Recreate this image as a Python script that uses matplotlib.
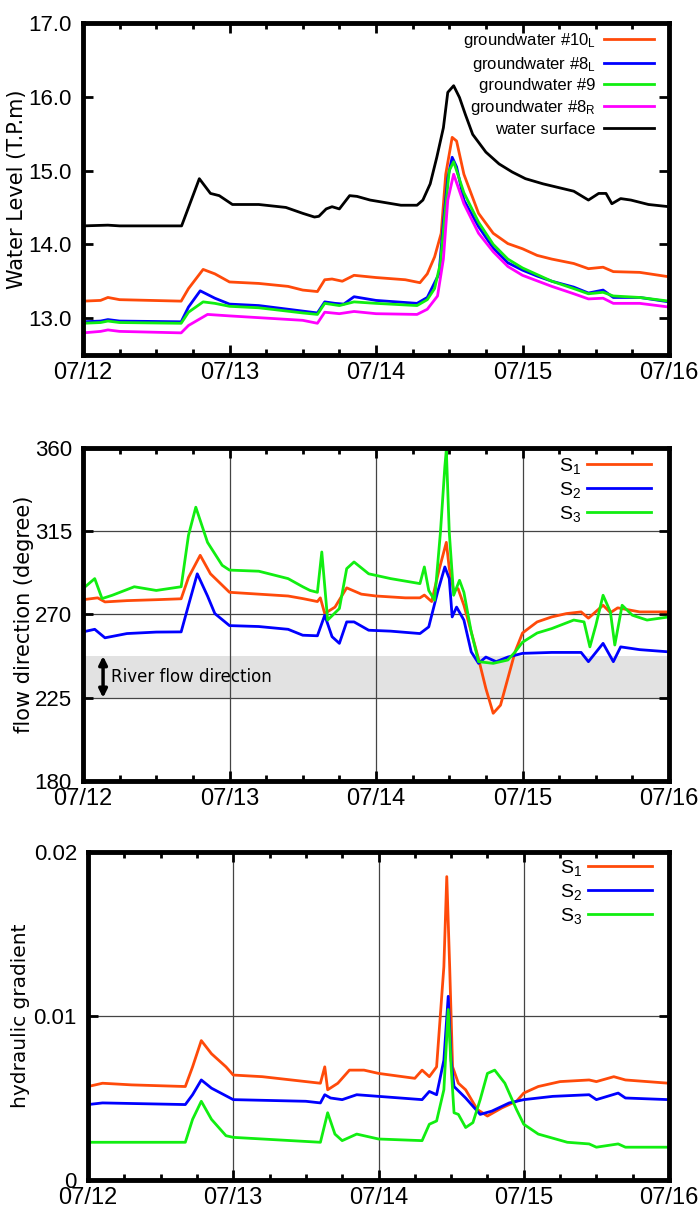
import matplotlib
matplotlib.use("Agg")
import matplotlib.pyplot as plt
from matplotlib.ticker import MultipleLocator

# time axis: days since 07/12 00:00
day_ticks = [0, 1, 2, 3, 4]
day_labels = ["07/12", "07/13", "07/14", "07/15", "07/16"]

# ---- panel 1: water level (T.P.m) ----
ws_t = [0, 0.17, 0.25, 0.673, 0.794, 0.87, 0.93, 1.02, 1.2, 1.385, 1.5, 1.58, 1.61, 1.66, 1.70,
        1.75, 1.82, 1.87, 1.96, 2.08, 2.17, 2.28, 2.32, 2.37, 2.415, 2.46, 2.49, 2.53, 2.57, 2.61,
        2.66, 2.75, 2.84, 2.93, 3.02, 3.14, 3.35, 3.45, 3.52, 3.57, 3.61, 3.67, 3.74, 3.86, 4.0]
ws_v = [14.25, 14.26, 14.25, 14.25, 14.89, 14.69, 14.66, 14.54, 14.54, 14.50, 14.42, 14.37, 14.38,
        14.48, 14.51, 14.48, 14.66, 14.65, 14.60, 14.56, 14.53, 14.53, 14.60, 14.82, 15.18, 15.58,
        16.06, 16.15, 15.99, 15.76, 15.49, 15.25, 15.09, 14.98, 14.89, 14.82, 14.72, 14.60, 14.69,
        14.69, 14.55, 14.62, 14.60, 14.54, 14.51]

g10_t = [0, 0.12, 0.17, 0.25, 0.67, 0.72, 0.82, 0.9, 1.0, 1.2, 1.4, 1.5, 1.6, 1.65, 1.7, 1.77,
         1.85, 2.0, 2.2, 2.3, 2.35, 2.4, 2.445, 2.476, 2.52, 2.55, 2.6, 2.7, 2.8, 2.9, 3.0, 3.1,
         3.2, 3.35, 3.45, 3.55, 3.62, 3.8, 4.0]
g10_v = [13.23, 13.24, 13.28, 13.25, 13.23, 13.40, 13.66, 13.60, 13.49, 13.47, 13.43, 13.38, 13.36,
         13.52, 13.53, 13.50, 13.58, 13.55, 13.52, 13.48, 13.60, 13.83, 14.15, 14.95, 15.45, 15.40,
         14.95, 14.42, 14.15, 14.01, 13.94, 13.85, 13.80, 13.74, 13.67, 13.69, 13.63, 13.62, 13.56]

g8l_t = [0, 0.12, 0.17, 0.25, 0.67, 0.72, 0.8, 0.9, 1.0, 1.2, 1.4, 1.6, 1.65, 1.72, 1.78, 1.85,
         2.0, 2.28, 2.35, 2.43, 2.46, 2.49, 2.52, 2.55, 2.6, 2.7, 2.8, 2.9, 3.0, 3.1, 3.2, 3.35,
         3.45, 3.55, 3.62, 3.8, 4.0]
g8l_v = [12.95, 12.96, 12.98, 12.96, 12.95, 13.15, 13.37, 13.27, 13.19, 13.17, 13.12, 13.07, 13.22,
         13.20, 13.19, 13.29, 13.24, 13.20, 13.28, 13.60, 14.30, 14.90, 15.18, 15.05, 14.60, 14.24,
         13.95, 13.75, 13.65, 13.57, 13.50, 13.42, 13.34, 13.38, 13.28, 13.28, 13.22]

g9_t = [0, 0.12, 0.17, 0.25, 0.67, 0.72, 0.82, 0.9, 1.0, 1.2, 1.5, 1.6, 1.65, 1.75, 1.85, 2.0,
        2.28, 2.35, 2.4, 2.44, 2.47, 2.50, 2.53, 2.6, 2.7, 2.8, 2.9, 3.0, 3.2, 3.35, 3.45, 3.55,
        3.62, 3.8, 4.0]
g9_v = [12.93, 12.94, 12.96, 12.94, 12.93, 13.08, 13.22, 13.20, 13.16, 13.14, 13.07, 13.05, 13.20,
        13.17, 13.22, 13.20, 13.17, 13.25, 13.40, 13.75, 14.40, 15.00, 15.12, 14.70, 14.30, 14.00,
        13.80, 13.68, 13.50, 13.40, 13.33, 13.35, 13.30, 13.28, 13.23]

g8r_t = [0, 0.12, 0.17, 0.25, 0.67, 0.72, 0.85, 1.0, 1.5, 1.6, 1.65, 1.75, 1.85, 2.0, 2.28, 2.35,
         2.42, 2.46, 2.49, 2.53, 2.6, 2.7, 2.8, 2.9, 3.0, 3.2, 3.35, 3.45, 3.55, 3.62, 3.8, 4.0]
g8r_v = [12.80, 12.82, 12.84, 12.82, 12.80, 12.90, 13.05, 13.03, 12.97, 12.93, 13.08, 13.06, 13.09,
         13.06, 13.05, 13.12, 13.30, 13.80, 14.60, 14.95, 14.55, 14.15, 13.90, 13.70, 13.58, 13.43,
         13.33, 13.26, 13.27, 13.20, 13.20, 13.15]

# ---- panel 2: flow direction (degree) ----
fd1_t = [0, 0.1, 0.15, 0.3, 0.5, 0.67, 0.72, 0.8, 0.87, 1.0, 1.2, 1.4, 1.5, 1.6, 1.62, 1.65, 1.72,
         1.8, 1.9, 2.0, 2.2, 2.3, 2.33, 2.38, 2.43, 2.48, 2.5, 2.53, 2.56, 2.6, 2.65, 2.7, 2.75,
         2.8, 2.85, 2.9, 2.95, 3.0, 3.1, 3.2, 3.3, 3.4, 3.45, 3.55, 3.6, 3.65, 3.8, 4.0]
fd1_v = [278, 279, 276.8, 277.5, 278, 278.5, 290, 302, 292, 282, 281, 280, 278.6, 277, 279, 270.5,
         274, 284.4, 281, 280, 279, 279, 280.5, 277, 294, 309, 295, 283, 284, 275, 260.6, 246, 230,
         216.6, 221, 235.5, 250, 260, 266, 268.7, 270.5, 271.4, 268, 275, 271, 273.6, 271.4, 271.4]

fd2_t = [0, 0.08, 0.15, 0.3, 0.5, 0.67, 0.72, 0.78, 0.85, 0.9, 1.0, 1.2, 1.4, 1.5, 1.6, 1.65, 1.7,
         1.75, 1.8, 1.85, 1.95, 2.1, 2.3, 2.36, 2.42, 2.47, 2.5, 2.52, 2.55, 2.6, 2.65, 2.7, 2.75,
         2.82, 2.9, 3.0, 3.2, 3.4, 3.45, 3.55, 3.62, 3.67, 3.8, 4.0]
fd2_v = [260.6, 262, 257.4, 259.7, 260.5, 260.6, 275, 292, 280, 270.5, 264, 263.5, 262, 258.8, 258.5,
         269.6, 258, 254.4, 266, 266, 261.5, 261, 259.7, 263.3, 282, 295.7, 289.4, 268.7, 274, 267,
         249.8, 243.6, 247, 244.5, 247, 249, 249.5, 249.5, 244.5, 254.4, 244.5, 252.5, 251, 249.8]

fd3_t = [0, 0.08, 0.13, 0.2, 0.35, 0.5, 0.67, 0.72, 0.77, 0.85, 0.95, 1.0, 1.2, 1.4, 1.5, 1.55, 1.6,
         1.63, 1.67, 1.75, 1.8, 1.85, 1.95, 2.1, 2.3, 2.33, 2.36, 2.4, 2.44, 2.47, 2.48, 2.5, 2.53,
         2.57, 2.6, 2.65, 2.7, 2.8, 2.9, 2.95, 3.0, 3.1, 3.2, 3.35, 3.42, 3.46, 3.5, 3.55, 3.6,
         3.63, 3.68, 3.75, 3.85, 4.0]
fd3_v = [284, 289.4, 278.6, 280.4, 285, 283, 285, 312.8, 328, 309, 296.6, 294, 293.4, 289.4, 285, 283,
         282, 303.8, 267, 273.2, 294.8, 298.4, 292, 289.4, 286.7, 295.7, 283, 277.7, 314.6, 350, 359,
         314.6, 280.4, 288.5, 282, 260.6, 244.5, 243.6, 245.4, 249.8, 255, 260, 262.4, 267, 266,
         252.5, 264, 280.4, 271.4, 253.5, 275, 269.6, 267, 268.7]

# river flow direction band (degree)
river_lo, river_hi = 225, 247.5

# ---- panel 3: hydraulic gradient ----
hg1_t = [0, 0.1, 0.3, 0.67, 0.72, 0.78, 0.85, 0.95, 1.0, 1.2, 1.4, 1.6, 1.63, 1.65, 1.72, 1.8, 1.9,
         2.0, 2.25, 2.3, 2.35, 2.4, 2.45, 2.47, 2.49, 2.51, 2.55, 2.6, 2.68, 2.75, 2.85, 2.95, 3.0,
         3.1, 3.25, 3.45, 3.5, 3.62, 3.7, 4.0]
hg1_v = [0.0057, 0.0059, 0.0058, 0.0057, 0.0069, 0.0085, 0.0077, 0.0069, 0.0064, 0.0063, 0.0061,
         0.0059, 0.0069, 0.0055, 0.0059, 0.0067, 0.0067, 0.0065, 0.0062, 0.0067, 0.0063, 0.0069,
         0.0130, 0.0185, 0.0130, 0.0069, 0.0059, 0.0055, 0.0043, 0.0039, 0.0044, 0.0048, 0.0053,
         0.0057, 0.0060, 0.0061, 0.0060, 0.0063, 0.0061, 0.0059]

hg2_t = [0, 0.1, 0.67, 0.72, 0.78, 0.85, 1.0, 1.5, 1.6, 1.63, 1.67, 1.75, 1.85, 2.0, 2.3, 2.35, 2.4,
         2.45, 2.48, 2.5, 2.52, 2.6, 2.7, 2.78, 2.9, 3.0, 3.2, 3.45, 3.5, 3.65, 3.7, 4.0]
hg2_v = [0.0046, 0.0047, 0.0046, 0.0052, 0.0061, 0.0056, 0.0049, 0.0048, 0.0047, 0.0052, 0.0050,
         0.0049, 0.0052, 0.0051, 0.0049, 0.0054, 0.0052, 0.0073, 0.0112, 0.0073, 0.0057, 0.0050,
         0.0040, 0.0042, 0.0047, 0.0049, 0.0051, 0.0052, 0.0049, 0.0053, 0.0050, 0.0049]

hg3_t = [0, 0.67, 0.72, 0.78, 0.85, 0.95, 1.0, 1.4, 1.6, 1.65, 1.7, 1.75, 1.85, 2.0, 2.3, 2.35, 2.4,
         2.45, 2.48, 2.5, 2.52, 2.55, 2.6, 2.65, 2.7, 2.75, 2.8, 2.87, 2.95, 3.0, 3.1, 3.3, 3.45,
         3.5, 3.65, 3.7, 4.0]
hg3_v = [0.0023, 0.0023, 0.0037, 0.0048, 0.0037, 0.0027, 0.0026, 0.0024, 0.0023, 0.0041, 0.0028,
         0.0024, 0.0028, 0.0025, 0.0024, 0.0034, 0.0036, 0.0055, 0.0104, 0.0069, 0.0041, 0.0040,
         0.0032, 0.0035, 0.0049, 0.0065, 0.0067, 0.0059, 0.0043, 0.0034, 0.0028, 0.0023, 0.0022,
         0.0020, 0.0022, 0.0020, 0.0020]

ORANGE = "#ff4a0a"
BLUE = "#0000ff"
GREEN = "#11ee11"
MAGENTA = "#ff00ff"

plt.rcParams["font.family"] = ["Liberation Sans", "DejaVu Sans"]
plt.rcParams["mathtext.fontset"] = "custom"
plt.rcParams["mathtext.rm"] = "Liberation Sans"
plt.rcParams["mathtext.it"] = "Liberation Sans:italic"

fig = plt.figure(figsize=(6.99, 12.09), dpi=100)
W, H = 699.0, 1209.0
ax1 = fig.add_axes([83 / W, 1 - 355 / H, 586 / W, 332 / H])
ax2 = fig.add_axes([83 / W, 1 - 781 / H, 586 / W, 333 / H])
ax3 = fig.add_axes([88 / W, 1 - 1180 / H, 581 / W, 328 / H])


def style_axes(ax):
    for s in ax.spines.values():
        s.set_linewidth(3.5)
    ax.set_xlim(0, 4)
    ax.set_xticks(day_ticks)
    ax.set_xticklabels(day_labels)
    ax.xaxis.set_minor_locator(MultipleLocator(0.25))
    ax.tick_params(which="both", direction="in", top=True, right=True, width=2)
    ax.tick_params(which="major", length=7)
    ax.tick_params(which="minor", length=4)
    ax.tick_params(axis="x", labelsize=17, pad=5)
    ax.tick_params(axis="y", labelsize=16, pad=8)


lw = 2

# panel 1
style_axes(ax1)
ax1.plot(g10_t, g10_v, color=ORANGE, lw=lw, label=r"groundwater #10$_\mathrm{L}$")
ax1.plot(g8l_t, g8l_v, color=BLUE, lw=lw, label=r"groundwater #8$_\mathrm{L}$")
ax1.plot(g9_t, g9_v, color=GREEN, lw=lw, label="groundwater #9")
ax1.plot(g8r_t, g8r_v, color=MAGENTA, lw=lw, label=r"groundwater #8$_\mathrm{R}$")
ax1.plot(ws_t, ws_v, color="black", lw=lw, label="water surface")
ax1.set_ylim(12.5, 17.0)
ax1.set_yticks([13, 14, 15, 16, 17])
ax1.set_yticklabels(["13.0", "14.0", "15.0", "16.0", "17.0"])
ax1.text(-0.112, 0.5, "Water Level (T.P.m)", transform=ax1.transAxes, rotation=90,
         ha="center", va="center", fontsize=15, family="DejaVu Sans")
ax1.legend(loc="upper right", bbox_to_anchor=(1 - 15 / 586, 1 - 8 / 332), frameon=False,
           markerfirst=False, handlelength=3.0, handletextpad=0.5, labelspacing=0.28,
           borderaxespad=0, borderpad=0, fontsize=12)

# panel 2
style_axes(ax2)
ax2.axhspan(river_lo, river_hi, color="#e2e2e2", zorder=0.5, lw=0)
ax2.grid(True, color="#444444", lw=0.9)
ax2.plot(fd1_t, fd1_v, color=ORANGE, lw=lw, label=r"S$_\mathrm{1}$")
ax2.plot(fd2_t, fd2_v, color=BLUE, lw=lw, label=r"S$_\mathrm{2}$")
ax2.plot(fd3_t, fd3_v, color=GREEN, lw=lw, label=r"S$_\mathrm{3}$")
ax2.set_ylim(180, 360)
ax2.set_yticks([180, 225, 270, 315, 360])
ax2.annotate("", xy=(0.137, river_lo), xytext=(0.137, river_hi),
             arrowprops=dict(arrowstyle="<|-|>", lw=2.5, color="black", mutation_scale=12,
                             shrinkA=0, shrinkB=0))
ax2.text(0.19, (river_lo + river_hi) / 2, "River flow direction", fontsize=12, va="center",
         family="DejaVu Sans")
ax2.text(-0.1, 0.5, "flow direction (degree)", transform=ax2.transAxes, rotation=90,
         ha="center", va="center", fontsize=15, family="DejaVu Sans")
ax2.legend(loc="upper right", bbox_to_anchor=(1 - 18 / 586, 1 - 8 / 333), frameon=False,
           markerfirst=False, handlelength=3.3, handletextpad=0.3, labelspacing=0.2,
           borderaxespad=0, borderpad=0, fontsize=14)

# panel 3
style_axes(ax3)
ax3.grid(True, color="#444444", lw=0.9)
ax3.plot(hg1_t, hg1_v, color=ORANGE, lw=lw, label=r"S$_\mathrm{1}$")
ax3.plot(hg2_t, hg2_v, color=BLUE, lw=lw, label=r"S$_\mathrm{2}$")
ax3.plot(hg3_t, hg3_v, color=GREEN, lw=lw, label=r"S$_\mathrm{3}$")
ax3.set_ylim(0, 0.02)
ax3.set_yticks([0, 0.01, 0.02])
ax3.set_yticklabels(["0", "0.01", "0.02"])
ax3.text(-0.117, 0.5, "hydraulic gradient", transform=ax3.transAxes, rotation=90,
         ha="center", va="center", fontsize=14.5, family="DejaVu Sans")
ax3.legend(loc="upper right", bbox_to_anchor=(1 - 17 / 581, 1 - 6 / 328), frameon=False,
           markerfirst=False, handlelength=3.3, handletextpad=0.3, labelspacing=0.2,
           borderaxespad=0, borderpad=0, fontsize=14)

fig.savefig("out.png", dpi=100)
